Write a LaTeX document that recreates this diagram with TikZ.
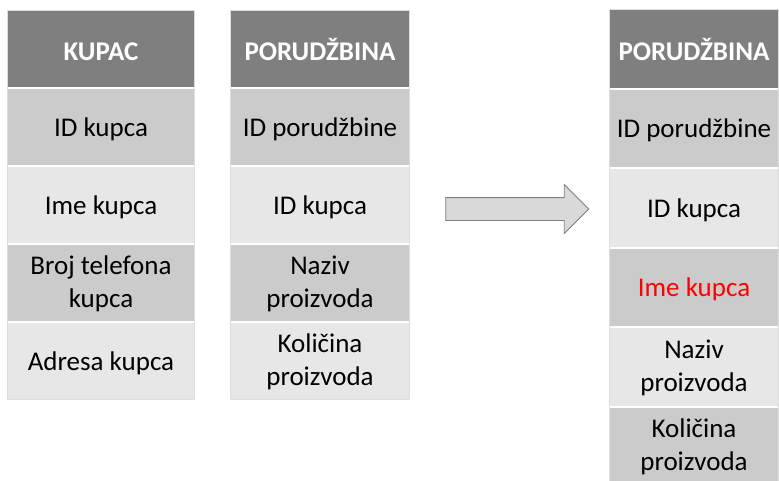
\documentclass[tikz,border=0pt]{standalone}
\usepackage{fontspec}
\setmainfont{Carlito}
\usetikzlibrary{shapes.arrows}
\definecolor{headgray}{HTML}{7F7F7F}
\definecolor{darkrow}{HTML}{CBCBCB}
\definecolor{lightrow}{HTML}{E7E7E7}
\definecolor{arrowfill}{HTML}{D9D9D9}
\tikzset{
    cell/.style={inner sep=0pt, align=center, font=\fontsize{27}{33}\selectfont, text=black,
        text height=19pt, text depth=0pt},
    twoline/.style={text height=54pt, text depth=5pt},
    headcell/.style={cell, fill=headgray, text=white, font=\fontsize{27}{33}\selectfont\bfseries,
        text height=23pt},
    darkcell/.style={cell, fill=darkrow},
    lightcell/.style={cell, fill=lightrow},
    tabframe/.style={draw=black!13, line width=0.8pt}
}
\begin{document}
\begin{tikzpicture}[x=1pt, y=1pt]
    \clip (0, 0) rectangle (779, -480);
    % KUPAC
    \begin{scope}[every node/.append style={minimum width=186pt, minimum height=76pt}]
        \node [headcell] (k0) at (101, -49) {KUPAC};
        \node [darkcell] (k1) at (101, -127) {ID kupca};
        \node [lightcell] (k2) at (101, -205) {Ime kupca};
        \node [darkcell, twoline] (k3) at (101, -283) {Broj telefona\\kupca};
        \node [lightcell] (k4) at (101, -361) {Adresa kupca};
    \end{scope}
    \draw [tabframe] (k0.north west) rectangle (k4.south east);
    % PORUDZBINA
    \begin{scope}[every node/.append style={minimum width=178pt, minimum height=76pt}]
        \node [headcell] (p0) at (320, -49) {PORUDŽBINA};
        \node [darkcell] (p1) at (320, -127) {ID porudžbine};
        \node [lightcell] (p2) at (320, -205) {ID kupca};
        \node [darkcell, twoline] (p3) at (320, -283) {Naziv\\proizvoda};
        \node [lightcell, twoline] (p4) at (320, -361) {Količina\\proizvoda};
    \end{scope}
    \draw [tabframe] (p0.north west) rectangle (p4.south east);
    % strelica
    \node [single arrow, draw=headgray, fill=arrowfill, line width=0.8pt,
        inner xsep=0pt, inner ysep=11pt, minimum height=143pt,
        single arrow head extend=13pt, single arrow tip angle=90] (strelica) at (511.5, -209) {};
    % nova PORUDZBINA
    \begin{scope}[every node/.append style={minimum width=168pt, minimum height=77.5pt}]
        \node [headcell] (n0) at (694, -48.75) {PORUDŽBINA};
        \node [darkcell] (n1) at (694, -128.25) {ID porudžbine};
        \node [lightcell] (n2) at (694, -207.75) {ID kupca};
        \node [darkcell, text=red] (n3) at (694, -287.25) {Ime kupca};
        \node [lightcell, twoline] (n4) at (694, -366.75) {Naziv\\proizvoda};
        \node [darkcell, twoline] (n5) at (694, -446.25) {Količina\\proizvoda};
    \end{scope}
    \draw [tabframe] (n0.north west) rectangle (n5.south east);
\end{tikzpicture}
\end{document}
